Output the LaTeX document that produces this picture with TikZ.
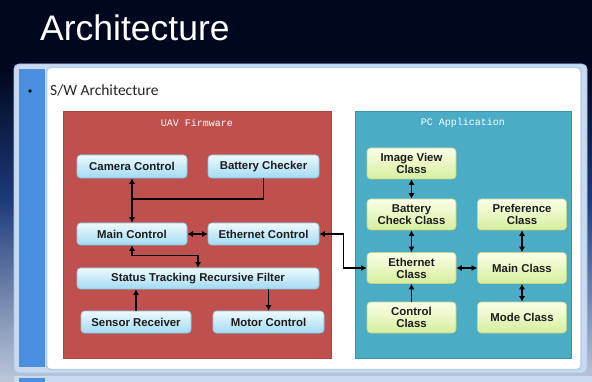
\documentclass[tikz,border=0pt]{standalone}
\usepackage{fontspec}
\setmainfont{Liberation Sans}
\newfontfamily\subfont{Carlito}
\newfontfamily\monofont{Liberation Mono}
\usetikzlibrary{arrows.meta,shadows}
\definecolor{navy}{HTML}{00081F}
\definecolor{midblue}{HTML}{1E3A7A}
\definecolor{lightbg}{HTML}{BCC8DA}
\definecolor{frameblue}{HTML}{C9DAF0}
\definecolor{framedraw}{HTML}{A8C4E8}
\definecolor{stripblue}{HTML}{4A8FE0}
\definecolor{panelborder}{HTML}{B4CDEE}
\definecolor{fwred}{HTML}{C0504D}
\definecolor{fwredd}{HTML}{A84542}
\definecolor{pcteal}{HTML}{4BACC6}
\definecolor{pcteald}{HTML}{3A93AC}
\definecolor{btop}{HTML}{EEFAFF}
\definecolor{bbot}{HTML}{A2DAF2}
\definecolor{bdraw}{HTML}{84C6E4}
\definecolor{gtop}{HTML}{FBFFE8}
\definecolor{gbot}{HTML}{D6EE9E}
\definecolor{gdraw}{HTML}{BCD68C}
\definecolor{txt}{HTML}{1C1C1C}
\tikzset{
  x=1pt, y=-1pt,
  fwbox/.style={rounded corners=3.5pt, top color=btop, bottom color=bbot, draw=bdraw, line width=0.6pt,
    drop shadow={opacity=0.25, shadow xshift=0.8pt, shadow yshift=-0.8pt},
    font=\fontsize{11.4}{12}\selectfont\bfseries, text=txt, inner sep=0pt, anchor=center},
  pcbox/.style={rounded corners=3.5pt, top color=gtop, bottom color=gbot, draw=gdraw, line width=0.6pt,
    drop shadow={opacity=0.25, shadow xshift=0.8pt, shadow yshift=-0.8pt},
    font=\fontsize{11.4}{12}\selectfont\bfseries, text=txt, inner sep=0pt, align=center,
    minimum width=89pt, minimum height=31pt, anchor=center},
  link/.style={line width=1.2pt, draw=black},
  tip/.tip={Latex[length=5.5pt,width=6pt]},
  dbl/.style={link, tip-tip},
  arr/.style={link, -tip},
  boxlabel/.style={font=\monofont\fontsize{10}{10}\selectfont, text=white, inner sep=0pt}
}
\begin{document}
\begin{tikzpicture}
\useasboundingbox (0,0) rectangle (592,382);
% background
\fill[navy] (0,0) rectangle (592,70);
\shade[top color=navy, bottom color=midblue] (0,69.5) rectangle (592,200);
\shade[top color=midblue, bottom color=lightbg] (0,199.5) rectangle (592,382);
% bottom strip (next slide edge)
\fill[frameblue] (14,376) rectangle (592,382);
\fill[stripblue] (19,378) rectangle (45,382);
% panel frame
\filldraw[fill=frameblue, draw=framedraw, line width=0.8pt, rounded corners=5pt] (14,64) rectangle (587,373);
\fill[stripblue] (19,69) rectangle (45,367);
\filldraw[fill=white, draw=panelborder, line width=1.5pt, rounded corners=4pt] (46.5,67.5) rectangle (581,369.5);
% title
\node[anchor=base west, inner sep=0pt, text=white, font=\fontsize{35.5}{38}\selectfont] (title) at (40,41) {Architecture};
\fill[black] (30,91) circle (1.8pt);
\node[anchor=base west, inner sep=0pt, text=black!85, font=\subfont\fontsize{15.5}{16}\selectfont] (sub) at (50,95.7) {S/W Architecture};
% group boxes
\filldraw[fill=fwred, draw=fwredd, line width=0.5pt] (63,111) rectangle (331,358);
\filldraw[fill=pcteal, draw=pcteald, line width=0.5pt] (355,111) rectangle (571,358);
\node[boxlabel] (fwlabel) at (197,122.5) {UAV Firmware};
\node[boxlabel] (pclabel) at (463,122.5) {PC Application};
% firmware nodes
\node[fwbox, minimum width=110pt, minimum height=23pt] (cam) at (132,166.5) {Camera Control};
\node[fwbox, minimum width=111pt, minimum height=23pt] (bat) at (263.5,166.5) {Battery Checker};
\node[fwbox, minimum width=110pt, minimum height=22pt] (main) at (132,234) {Main Control};
\node[fwbox, minimum width=111pt, minimum height=22pt] (eth) at (263.5,234) {Ethernet Control};
\node[fwbox, minimum width=242pt, minimum height=21pt] (filt) at (198,278.5) {Status Tracking Recursive Filter};
\node[fwbox, minimum width=110pt, minimum height=22pt] (sens) at (136,322) {Sensor Receiver};
\node[fwbox, minimum width=111pt, minimum height=22pt] (motor) at (268.5,322) {Motor Control};
% pc nodes
\node[pcbox] (img) at (411.5,163.5) {Image View\\Class};
\node[pcbox] (bcc) at (411.5,214.5) {Battery\\Check Class};
\node[pcbox] (pref) at (522,214.5) {Preference\\Class};
\node[pcbox] (ethc) at (411.5,268) {Ethernet\\Class};
\node[pcbox] (mainc) at (522,268) {Main Class};
\node[pcbox] (ctrl) at (411.5,317.5) {Control\\Class};
\node[pcbox] (mode) at (522,317.5) {Mode Class};
% firmware links
\coordinate (join) at (132,199);
\draw[dbl] (cam.south) -- (main.north);
\draw[link] (bat.south) |- (join);
\draw[dbl] (main.east) -- (eth.west);
\draw[dbl] (main.south) -- ++(0,10) -| (filt.north);
\draw[arr] (sens.north) -- (sens.north |- filt.south);
\draw[arr] (motor.north |- filt.south) -- (motor.north);
\draw[dbl] (eth.east) -- ++(24,0) |- (ethc.west);
% pc links
\draw[dbl] (img.south) -- (bcc.north);
\draw[dbl] (bcc.south) -- (ethc.north);
\draw[dbl] (pref.south) -- (mainc.north);
\draw[dbl] (ethc.east) -- (mainc.west);
\draw[dbl] (mainc.south) -- (mode.north);
\draw[arr] (ctrl.north) -- (ethc.south);
\end{tikzpicture}
\end{document}
